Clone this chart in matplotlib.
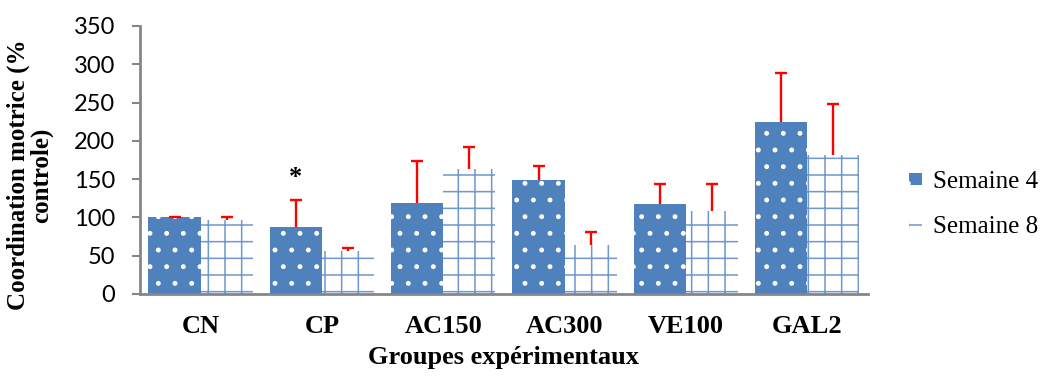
import numpy as np
import matplotlib
matplotlib.use("Agg")
import matplotlib.pyplot as plt

# data
groupes = ["CN", "CP", "AC150", "AC300", "VE100", "GAL2"]
semaine4 = [100, 88, 119, 149, 118, 224]
semaine8 = [97, 56, 163, 64, 108, 181]
err4 = [1, 35, 55, 18, 25, 65]
err8 = [3, 4, 29, 17, 35, 67]

bleu = "#4F81BD"
grille = "#6F98CF"
serif = "Liberation Serif"

plt.rcParams["hatch.linewidth"] = 1.1

fig = plt.figure(figsize=(10.44, 3.76), dpi=100)
ax = fig.add_axes([0.1341, 0.2181, 0.6973, 0.7128])

x = np.arange(len(groupes))
w = 0.43

b4 = ax.bar(x - w / 2, semaine4, w, color=bleu, edgecolor="white", hatch=".",
            linewidth=0, label="Semaine 4", zorder=2)
b8 = ax.bar(x + w / 2, semaine8, w, color="white", edgecolor=grille, hatch="+",
            linewidth=0, label="Semaine 8", zorder=2)

# upper error bars only (hide the lower caps)
zeros = np.zeros(len(groupes))
for xs, vals, errs in [(x - w / 2, semaine4, err4), (x + w / 2, semaine8, err8)]:
    eb = ax.errorbar(xs, vals, yerr=[zeros, errs], fmt="none", ecolor="red",
                     elinewidth=1.7, capsize=4.3, capthick=1.7, zorder=3)
    eb[1][0].set_visible(False)

# significance mark above CP
ax.text(x[1] - w / 2, 152, "*", ha="center", va="center", fontsize=19,
        fontfamily=serif, fontweight="bold")

ax.set_xlim(-0.5, len(groupes) - 0.5)
ax.set_ylim(0, 350)
ax.set_yticks(range(0, 351, 50))
ax.set_xticks(x)
ax.set_xticklabels(groupes, fontfamily=serif, fontweight="bold", fontsize=19)
for lab in ax.get_yticklabels():
    lab.set_fontfamily("Lato")
    lab.set_fontsize(17)

ax.tick_params(axis="y", length=6, width=1.5, color="#868686", pad=12, direction="out")
ax.tick_params(axis="x", length=0, pad=15)

for s in ["top", "right"]:
    ax.spines[s].set_visible(False)
for s in ["left", "bottom"]:
    ax.spines[s].set_color("#868686")
    ax.spines[s].set_linewidth(2)
    ax.spines[s].set_zorder(4)

ax.set_xlabel("Groupes expérimentaux", fontfamily=serif, fontweight="bold",
              fontsize=19, labelpad=6)
ax.set_ylabel("Coordination motrice (%\ncontrole)", fontfamily=serif,
              fontweight="bold", fontsize=18, multialignment="center",
              linespacing=0.95)
ax.yaxis.set_label_coords(-0.12, 0.444)

fig.legend(handles=[b4, b8], loc="center left", bbox_to_anchor=(0.871, 0.456),
           frameon=False, prop={"family": serif, "size": 18}, borderpad=0,
           borderaxespad=0, handlelength=0.5, handleheight=0.35,
           handletextpad=0.45, labelspacing=0.95)

fig.savefig("out.png", dpi=100)
